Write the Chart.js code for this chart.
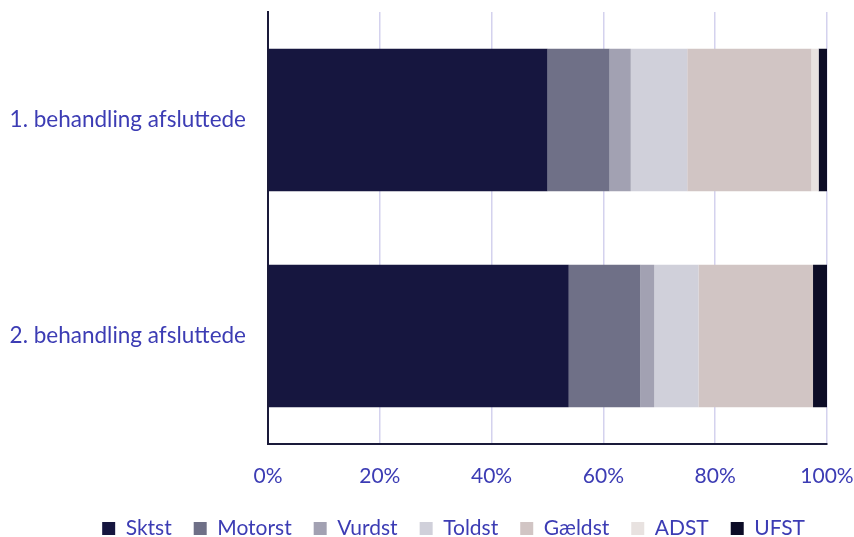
<!DOCTYPE html>
<html>
<head>
<meta charset="utf-8">
<script src="https://cdn.jsdelivr.net/npm/chart.js@4/dist/chart.umd.min.js"></script>
<style>
  html, body { margin: 0; padding: 0; background: #fff; }
  #wrap { width: 854px; height: 537px; }
</style>
</head>
<body>
<div id="wrap"><canvas id="chart" width="854" height="537"></canvas></div>
<script>
// Categories and series (share in %)
const categories = ['1. behandling afsluttede', '2. behandling afsluttede'];
const seriesNames = ['Sktst', 'Motorst', 'Vurdst', 'Toldst', 'Gældst', 'ADST', 'UFST'];
const sktst   = [50.0, 53.8];
const motorst = [11.1, 12.8];
const vurdst  = [3.8, 2.5];
const toldst  = [10.1, 7.9];
const gaeldst = [22.2, 20.5];
const adst    = [1.3, 0.0];
const ufst    = [1.5, 2.5];
const xTicks = [0, 20, 40, 60, 80, 100];

const colors = ['#16163F', '#6F7087', '#A2A1B2', '#D0D0DA', '#D1C5C4', '#E8E2E0', '#0C0C26'];
const textColor = '#3C3CB4';

const seriesValues = [sktst, motorst, vurdst, toldst, gaeldst, adst, ufst];

const datasets = seriesNames.map((name, i) => ({
  label: name,
  data: seriesValues[i],
  backgroundColor: colors[i],
  borderWidth: 0,
  barPercentage: 0.66,
  categoryPercentage: 1.0
}));

const ctx = document.getElementById('chart').getContext('2d');
new Chart(ctx, {
  type: 'bar',
  data: { labels: categories, datasets: datasets },
  options: {
    indexAxis: 'y',
    responsive: false,
    animation: false,
    layout: { padding: { top: 12, right: 27, left: 0, bottom: -12 } },
    plugins: {
      legend: {
        position: 'bottom',
        align: 'end',
        labels: {
          color: textColor,
          font: { family: 'Lato', size: 21 },
          boxWidth: 13,
          boxHeight: 13,
          padding: 22
        }
      },
      tooltip: { enabled: false }
    },
    scales: {
      x: {
        stacked: true,
        min: 0,
        max: 100,
        afterBuildTicks: scale => { scale.ticks = xTicks.map(v => ({ value: v })); },
        ticks: {
          color: textColor,
          font: { family: 'Lato', size: 21 },
          padding: 20,
          callback: v => v + '%'
        },
        grid: { color: '#D4D2EE', lineWidth: 1.5, drawTicks: false },
        border: { color: '#1A1A3A', width: 2 },
        afterFit: scale => {
          scale.height = 52;
          scale.paddingLeft = 0;
          scale.paddingRight = 0;
        }
      },
      y: {
        stacked: true,
        ticks: {
          color: textColor,
          font: { family: 'Lato', size: 22.5 },
          padding: 22
        },
        grid: { display: false, drawTicks: false },
        border: { color: '#1A1A3A', width: 2 },
        afterFit: scale => {
          scale.width = 268;
          scale.paddingTop = 0;
          scale.paddingBottom = 0;
        }
      }
    }
  }
});
</script>
</body>
</html>
